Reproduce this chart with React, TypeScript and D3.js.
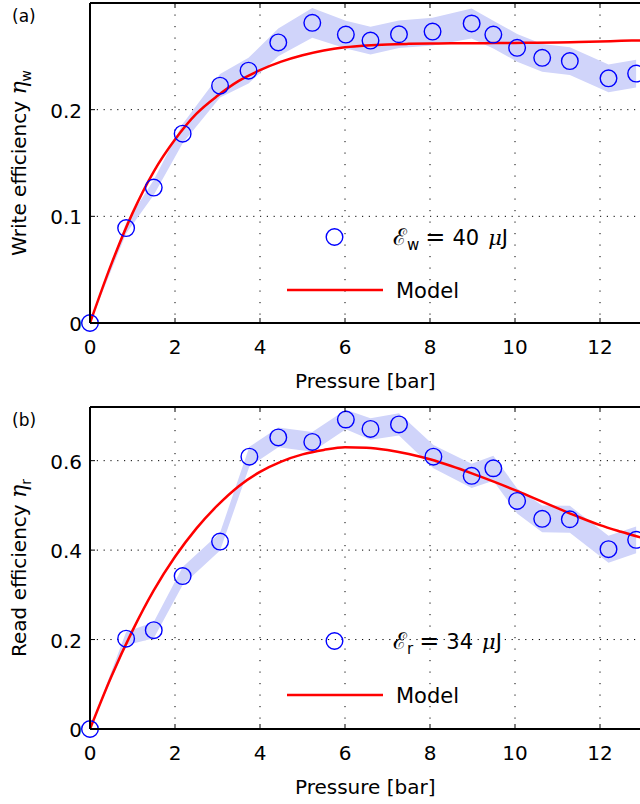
import React, { useEffect } from "react";
import * as d3 from "d3";

const pressureW = [0, 0.85, 1.5, 2.18, 3.06, 3.73, 4.43, 5.23, 6.02, 6.6, 7.27, 8.06, 8.98, 9.49, 10.05, 10.64, 11.29, 12.2, 12.85];
const writeEff = [0, 0.089, 0.127, 0.1775, 0.2225, 0.2366, 0.263, 0.2814, 0.2704, 0.2648, 0.2707, 0.2732, 0.2808, 0.2704, 0.258, 0.2486, 0.2456, 0.2294, 0.2338];
const writeErr = [0, 0.005, 0.007, 0.009, 0.011, 0.012, 0.013, 0.014, 0.013, 0.013, 0.013, 0.013, 0.014, 0.013, 0.013, 0.013, 0.013, 0.013, 0.013];

const pressureR = [0, 0.85, 1.5, 2.18, 3.06, 3.75, 4.43, 5.23, 6.02, 6.6, 7.27, 8.08, 8.98, 9.49, 10.05, 10.64, 11.29, 12.2, 12.85];
const readEff = [0, 0.202, 0.221, 0.342, 0.419, 0.609, 0.652, 0.642, 0.692, 0.671, 0.681, 0.609, 0.566, 0.583, 0.51, 0.47, 0.469, 0.402, 0.423];
const readErr = [0, 0.015, 0.018, 0.02, 0.02, 0.022, 0.022, 0.022, 0.022, 0.024, 0.025, 0.026, 0.027, 0.028, 0.028, 0.03, 0.03, 0.03, 0.03];

const modelX = [0, 0.5, 1, 1.5, 2, 2.5, 3, 3.5, 4, 4.5, 5, 5.5, 6, 6.5, 7, 7.5, 8, 8.5, 9, 9.5, 10, 10.5, 11, 11.5, 12, 12.5, 13];
const modelW = [0, 0.055, 0.103, 0.142, 0.172, 0.196, 0.213, 0.227, 0.237, 0.245, 0.251, 0.2555, 0.2585, 0.2602, 0.2612, 0.2617, 0.262, 0.2622, 0.2623, 0.2624, 0.2626, 0.2628, 0.263, 0.2635, 0.264, 0.2645, 0.265];
const modelR = [0, 0.117, 0.22, 0.31, 0.385, 0.448, 0.5, 0.543, 0.575, 0.598, 0.614, 0.624, 0.63, 0.629, 0.624, 0.615, 0.603, 0.588, 0.571, 0.553, 0.534, 0.514, 0.494, 0.474, 0.456, 0.441, 0.427];

const xTicks = [0, 2, 4, 6, 8, 10, 12];
const yTicksW = [0, 0.1, 0.2];
const yTicksR = [0, 0.2, 0.4, 0.6];

const FONT = "DejaVu Sans";

type PanelProps = {
  top: number;
  bottom: number;
  yMax: number;
  yTicks: number[];
  px: number[];
  py: number[];
  perr: number[];
  model: number[];
  label: string;
  sub: string;
  yLabel: string;
  energy: string;
  legendY: number;
  modelLegendY: number;
};

function Panel(p: PanelProps) {
  const left = 90;
  const right = 642.5;
  const x = d3.scaleLinear().domain([0, 13]).range([left, right]);
  const y = d3.scaleLinear().domain([0, p.yMax]).range([p.bottom, p.top]);
  const idx = p.px.map((_, i) => i);
  const band = d3
    .area<number>()
    .x((i) => x(p.px[i]))
    .y0((i) => y(p.py[i] - p.perr[i]))
    .y1((i) => y(p.py[i] + p.perr[i]));
  const line = d3
    .line<number>()
    .x((i) => x(modelX[i]))
    .y((i) => y(p.model[i]))
    .curve(d3.curveMonotoneX);
  const midY = (p.top + p.bottom) / 2;
  return (
    <g fontFamily={FONT}>
      <defs>
        <clipPath id={"clip" + p.label}>
          <rect x={left} y={p.top} width={right - left} height={p.bottom - p.top} />
        </clipPath>
      </defs>
      {xTicks.filter((t) => t > 0).map((t) => (
        <line key={"gx" + t} x1={x(t)} x2={x(t)} y1={p.top} y2={p.bottom} stroke="#000" strokeWidth={1} strokeDasharray="1.2,10.3" />
      ))}
      {p.yTicks.filter((t) => t > 0).map((t) => (
        <line key={"gy" + t} x1={left} x2={right} y1={y(t)} y2={y(t)} stroke="#000" strokeWidth={1} strokeDasharray="1.2,5.6" />
      ))}
      <path d={band(idx) || ""} fill="rgb(208,212,250)" stroke="none" />
      <path d={line(modelX.map((_, i) => i)) || ""} fill="none" stroke="#ff0000" strokeWidth={2.5} clipPath={`url(#clip${p.label})`} />
      {idx.map((i) => (
        <circle key={"c" + i} cx={x(p.px[i])} cy={y(p.py[i])} r={8.3} fill="none" stroke="#0000ff" strokeWidth={1.4} />
      ))}
      <line x1={left} x2={left} y1={p.top} y2={p.bottom} stroke="#000" strokeWidth={2} />
      <line x1={left} x2={right + 5} y1={p.top} y2={p.top} stroke="#000" strokeWidth={2} />
      <line x1={left} x2={right + 5} y1={p.bottom} y2={p.bottom} stroke="#000" strokeWidth={2} />
      {xTicks.map((t) => (
        <g key={"xt" + t}>
          <line x1={x(t)} x2={x(t)} y1={p.bottom} y2={p.bottom - 5} stroke="#000" strokeWidth={1} />
          <line x1={x(t)} x2={x(t)} y1={p.top} y2={p.top + 5} stroke="#000" strokeWidth={1} />
          <text x={x(t)} y={p.bottom + 31} fontSize={20} textAnchor="middle" fill="#000">{t}</text>
        </g>
      ))}
      {p.yTicks.map((t) => (
        <g key={"yt" + t}>
          <line x1={left} x2={left + 5} y1={y(t)} y2={y(t)} stroke="#000" strokeWidth={1} />
          <text x={left - 8} y={y(t) + 8} fontSize={20} textAnchor="end" fill="#000">{t === 0 ? "0" : t.toFixed(1)}</text>
        </g>
      ))}
      <text x={(left + right) / 2 - 1} y={p.bottom + 65} fontSize={20} textAnchor="middle" fill="#000">Pressure [bar]</text>
      <text transform={`translate(26,${midY}) rotate(-90)`} fontSize={20} textAnchor="middle" fill="#000">
        {p.yLabel + " "}
        <tspan fontFamily="DejaVu Serif" fontStyle="italic" fontSize={22}>η</tspan>
        <tspan fontSize={14} dy={5}>{p.sub}</tspan>
      </text>
      <text x={12} y={p.top + 19} fontSize={17} fill="#000">({p.label})</text>
      <circle cx={334.5} cy={p.legendY} r={8.3} fill="none" stroke="#0000ff" strokeWidth={1.4} />
      <text x={393} y={p.legendY + 8} fontSize={21} fill="#000">
        <tspan fontFamily="DejaVu Serif" fontSize={23}>ℰ</tspan>
        <tspan fontSize={15} dy={5}>{p.sub}</tspan>
        <tspan dy={-5} dx={6} fontSize={24}>=</tspan>
        <tspan dx={7}>{p.energy}</tspan>
        <tspan dx={9} fontFamily="DejaVu Serif" fontStyle="italic">μ</tspan>
        <tspan>J</tspan>
      </text>
      <line x1={287} x2={383} y1={p.modelLegendY} y2={p.modelLegendY} stroke="#ff0000" strokeWidth={2.5} />
      <text x={396} y={p.modelLegendY + 8} fontSize={21} fill="#000">Model</text>
    </g>
  );
}

export default function App() {
  useEffect(() => {
    document.body.style.margin = "0";
  }, []);
  return (
    <svg width={640} height={804} style={{ position: "absolute", left: 0, top: 0, background: "#fff" }}>
      <rect width={640} height={804} fill="#fff" />
      <Panel top={3} bottom={323} yMax={0.3} yTicks={yTicksW} px={pressureW} py={writeEff} perr={writeErr} model={modelW}
        label="a" sub="w" yLabel="Write efficiency" energy="40" legendY={237} modelLegendY={290} />
      <Panel top={407} bottom={729} yMax={0.72} yTicks={yTicksR} px={pressureR} py={readEff} perr={readErr} model={modelR}
        label="b" sub="r" yLabel="Read efficiency" energy="34" legendY={641} modelLegendY={695} />
    </svg>
  );
}
